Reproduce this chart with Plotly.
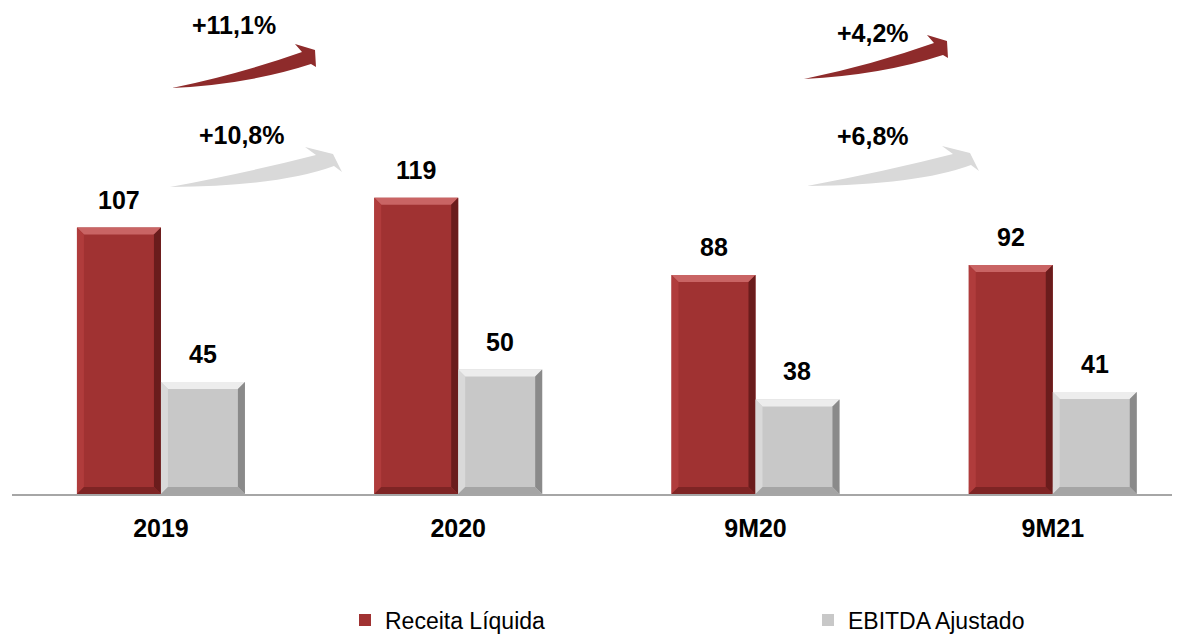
import plotly.graph_objects as go

categories = ["2019", "2020", "9M20", "9M21"]
receita = [107, 119, 88, 92]
ebitda = [45, 50, 38, 41]
growth_receita = ["+11,1%", "+4,2%"]
growth_ebitda = ["+10,8%", "+6,8%"]
series_names = ["Receita Líquida", "EBITDA Ajustado"]

RED = "#A03232"
GRAY = "#C8C8C8"
BOLD = "Liberation Sans, Arial, sans-serif"

# page offset of the figure (default body margin)
OFF = 8
W, H = 1180, 634
ML = 12 - OFF
MT = 0
PLOT_BOTTOM = 494 - OFF          # figure px
MB = H - PLOT_BOTTOM
MR = W - (1180 - OFF)
PW, PH = W - ML - MR, PLOT_BOTTOM - MT
SCALE = 2.49                      # px per unit
X_RANGE = [-0.501, 3.428]
Y_RANGE = [0, PH / SCALE]
BARGAP = 0.435
BAR_W = (1 - BARGAP) / 2

xs = list(range(len(categories)))

fig = go.Figure()
fig.add_trace(go.Bar(x=xs, y=receita, name=series_names[0], legend="legend",
                     marker=dict(color=RED, line=dict(width=0))))
fig.add_trace(go.Bar(x=xs, y=ebitda, name=series_names[1], legend="legend2",
                     marker=dict(color=GRAY, line=dict(width=0))))

px_x = (X_RANGE[1] - X_RANGE[0]) / PW
px_y = (Y_RANGE[1] - Y_RANGE[0]) / PH
bx, by = 7 * px_x, 7 * px_y

shapes = []
annotations = []

def bevel(x0, x1, top, cols):
    light, lside, dark, dbot = cols
    def poly(pts, c):
        d = "M" + " L".join(f"{a},{b}" for a, b in pts) + " Z"
        shapes.append(dict(type="path", path=d, xref="x", yref="y", fillcolor=c, line=dict(width=0), layer="above"))
    poly([(x0, top), (x1, top), (x1 - bx, top - by), (x0 + bx, top - by)], light)
    poly([(x0, 0), (x0, top), (x0 + bx, top - by), (x0 + bx, by)], lside)
    poly([(x1, 0), (x1, top), (x1 - bx, top - by), (x1 - bx, by)], dark)
    poly([(x0, 0), (x1, 0), (x1 - bx, by), (x0 + bx, by)], dbot)

red_cols = ("#C96464", "#B03C3C", "#6A1C1C", "#7E2424")
gray_cols = ("#EDEDED", "#D9D9D9", "#8A8A8A", "#A5A5A5")

for i, (r, e) in enumerate(zip(receita, ebitda)):
    bevel(i - BAR_W, i, r, red_cols)
    bevel(i, i + BAR_W, e, gray_cols)
    annotations.append(dict(x=i - BAR_W / 2, y=r, xref="x", yref="y", text=f"<b>{r}</b>", showarrow=False,
                            yanchor="bottom", yshift=12, font=dict(family=BOLD, size=25, color="black")))
    annotations.append(dict(x=i + BAR_W / 2, y=e, xref="x", yref="y", text=f"<b>{e}</b>", showarrow=False,
                            yanchor="bottom", yshift=12, font=dict(family=BOLD, size=25, color="black")))

def px2paper(px, py):
    fx, fy = px - OFF, py - OFF
    return (fx - ML) / PW, (PLOT_BOTTOM - fy) / PH

def P(px, py):
    a, b = px2paper(px, py)
    return f"{a:.5f},{b:.5f}"

def arrow(tx, ty, tpl, color):
    (lc, b1, h2, p, h1, a1, uc) = tpl
    def q(o):
        return P(tx + o[0], ty + o[1])
    d = (f"M{P(tx, ty)} Q{q(lc)} {q(b1)} L{q(h2)} L{q(p)} L{q(h1)} L{q(a1)} "
         f"Q{q(uc)} {P(tx, ty)} Z")
    shapes.append(dict(type="path", path=d, xref="paper", yref="paper", fillcolor=color,
                       line=dict(width=0), layer="above"))

red_tpl = ((78, -4), (139, -24), (144, -21), (143, -38), (123, -44), (130, -36), (68, -14))
gray_tpl = ((110, -1), (164, -21), (172, -15), (163, -33), (135, -40), (146, -32), (80, -15))

arrow(172, 88, red_tpl, "#8E2B2B")
arrow(804, 79, red_tpl, "#8E2B2B")
arrow(170, 187, gray_tpl, "#D9D9D9")
arrow(807, 186, gray_tpl, "#D9D9D9")

def lab(px, py, text):
    a, b = px2paper(px, py)
    annotations.append(dict(x=a, y=b, xref="paper", yref="paper",
                            text=f"<b>{text}</b>", showarrow=False, xanchor="center", yanchor="middle",
                            font=dict(family=BOLD, size=25, color="black")))

lab(234, 25, growth_receita[0])
lab(242, 135, growth_ebitda[0])
lab(873, 33, growth_receita[1])
lab(873, 136, growth_ebitda[1])

legend_font = dict(family="Liberation Sans, Arial, sans-serif", size=23, color="black")
def leg(px):
    a, b = px2paper(px, 620)
    return dict(orientation="h", x=a, xanchor="left", y=b, yanchor="middle",
                font=legend_font, itemsizing="constant", bgcolor="rgba(0,0,0,0)")

fig.update_layout(
    width=W, height=H,
    margin=dict(l=ML, r=MR, t=MT, b=MB, autoexpand=False),
    paper_bgcolor="white", plot_bgcolor="white",
    barmode="group", bargap=BARGAP, bargroupgap=0,
    shapes=shapes, annotations=annotations,
    showlegend=True,
    legend=leg(345),
    legend2=leg(808),
    xaxis=dict(range=X_RANGE, tickmode="array", tickvals=xs, ticktext=[f"<b>{c}</b>" for c in categories],
               showgrid=False, zeroline=False, showline=True, linecolor="#A6A6A6", linewidth=1.5,
               ticks="outside", ticklen=11, tickcolor="rgba(0,0,0,0)",
               tickfont=dict(family=BOLD, size=25, color="black"), automargin=False),
    yaxis=dict(range=Y_RANGE, visible=False, showgrid=False, zeroline=False),
)

fig.write_html("out.html")
